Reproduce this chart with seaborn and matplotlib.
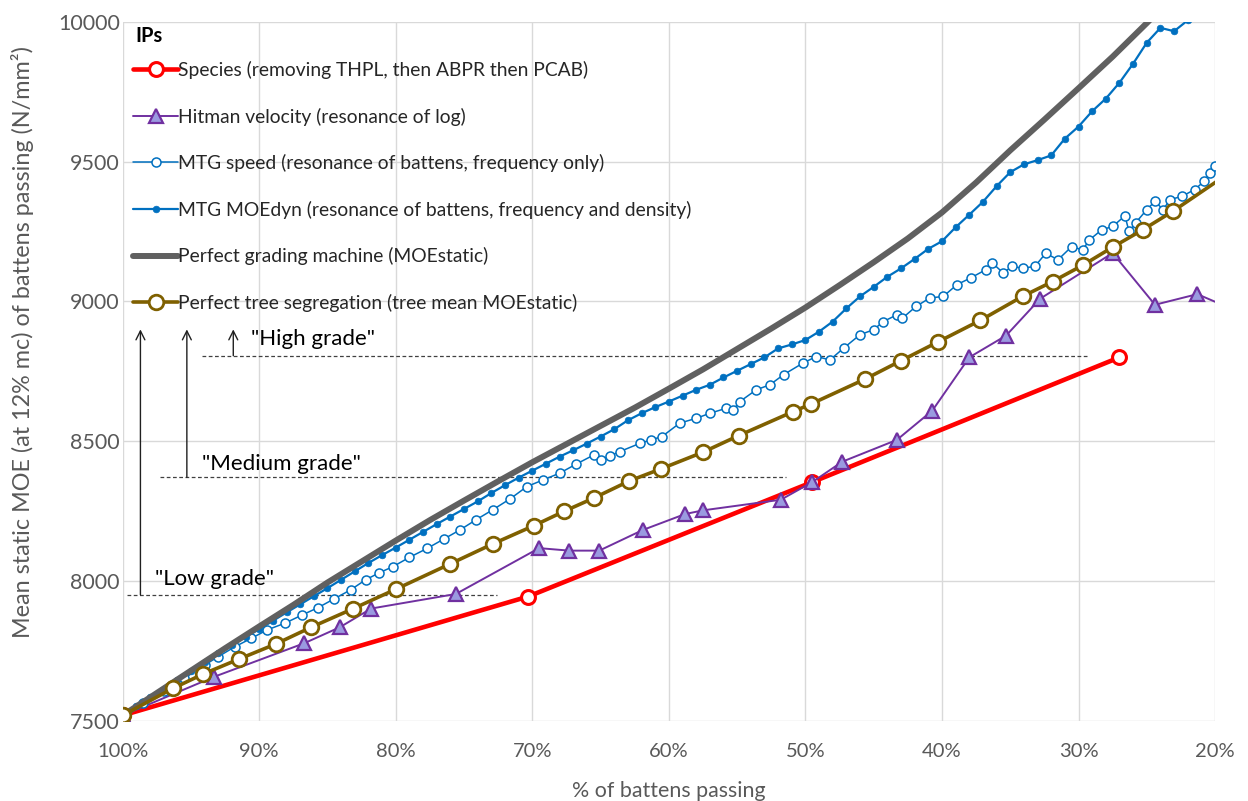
import matplotlib
matplotlib.use('Agg')
import matplotlib.pyplot as plt
import seaborn as sns
import pandas as pd

# values: % of battens passing -> mean static MOE (N/mm2)
species_pct = [100, 70.3, 49.5, 27.0]
species_moe = [7520, 7945, 8354, 8800]

hitman_pct = [100, 93.3, 86.7, 84.1, 81.8, 75.6, 69.5, 67.3, 65.1, 61.9, 58.8, 57.5,
              51.8, 49.5, 47.3, 43.3, 40.7, 38.0, 35.3, 32.8, 27.5, 24.4, 21.3, 19.0]
hitman_moe = [7520, 7658, 7778, 7835, 7902, 7954, 8118, 8109, 8109, 8183, 8240, 8253,
              8291, 8354, 8427, 8505, 8610, 8800, 8878, 9010, 9173, 8988, 9026, 8978]

speed_pct = [100, 98.5, 97, 95.5, 94, 93, 91.8, 90.6, 89.4, 88.1, 86.9, 85.7, 84.5, 83.3,
             82.2, 81.2, 80.2, 79, 77.7, 76.5, 75.3, 74.1, 72.9, 71.6, 70.4, 69.2, 68,
             66.8, 65.5, 65, 64.3, 63.6, 62.1, 61.3, 60.5, 59.2, 58, 57, 55.8, 55.3, 54.8,
             53.6, 52.6, 51.6, 50.2, 49.2, 48.2, 47.2, 46, 45, 44.3, 43.3, 42.9, 41.9,
             40.9, 39.9, 38.9, 37.9, 36.8, 36.3, 35.5, 34.9, 34.1, 33.2, 32.4, 31.5,
             30.5, 29.7, 29.2, 28.3, 27.5, 26.6, 26.3, 25.8, 25, 24.4, 23.8, 23.3, 22.4,
             21.5, 20.8, 20.4, 20]
speed_moe = [7520, 7565, 7608, 7652, 7700, 7730, 7765, 7795, 7826, 7850, 7878, 7905, 7937,
             7969, 8005, 8030, 8052, 8085, 8117, 8150, 8183, 8220, 8255, 8295, 8338, 8362,
             8386, 8418, 8451, 8434, 8448, 8463, 8493, 8505, 8517, 8565, 8582, 8600, 8618,
             8612, 8642, 8684, 8702, 8738, 8779, 8803, 8791, 8833, 8881, 8899, 8928, 8952,
             8940, 8982, 9012, 9018, 9060, 9084, 9113, 9137, 9101, 9125, 9119, 9125, 9172,
             9149, 9196, 9184, 9220, 9256, 9268, 9306, 9250, 9282, 9328, 9358, 9328, 9364,
             9376, 9400, 9429, 9459, 9483]

moedyn_pct = [100, 99, 98, 97, 96, 95, 94, 93, 92, 91, 90, 89, 88, 87, 86, 85, 84, 83, 82,
              81, 80, 79, 78, 77, 76, 75, 74, 73, 72, 71, 70, 69, 68, 67, 66, 65, 64, 63,
              62, 61, 60, 59, 58, 57, 56, 55, 54, 53, 52, 51, 50, 49, 48, 47, 46, 45, 44,
              43, 42, 41, 40, 39, 38, 37, 36, 35, 34, 33, 32, 31, 30, 29, 28, 27, 26, 25,
              24, 23, 22]
moedyn_moe = [7520, 7552, 7584, 7616, 7648, 7680, 7711, 7742, 7772, 7800, 7828, 7858, 7888,
              7917, 7946, 7975, 8005, 8035, 8065, 8093, 8120, 8148, 8176, 8204, 8231, 8258,
              8285, 8315, 8343, 8370, 8395, 8420, 8445, 8468, 8492, 8517, 8543, 8575, 8600,
              8622, 8642, 8663, 8684, 8702, 8728, 8752, 8776, 8800, 8832, 8846, 8862, 8892,
              8928, 8975, 9018, 9052, 9088, 9118, 9152, 9188, 9215, 9265, 9310, 9356, 9412,
              9462, 9490, 9505, 9522, 9582, 9625, 9680, 9725, 9782, 9850, 9925, 9978, 9966,
              10005]

perfect_pct = [100, 97.5, 95, 92.5, 90, 87.5, 85, 82.5, 80, 77.5, 75, 72.5, 70, 67.5, 65,
               62.5, 60, 57.5, 55, 52.5, 50, 47.5, 45, 42.5, 40, 37.5, 35, 32.5, 30, 27.5,
               25, 24]
perfect_moe = [7520, 7600, 7680, 7760, 7838, 7915, 7995, 8070, 8145, 8218, 8288, 8357, 8425,
               8490, 8555, 8620, 8688, 8757, 8830, 8903, 8978, 9058, 9140, 9225, 9318, 9425,
               9540, 9650, 9762, 9875, 9995, 10045]

tree_pct = [100, 96.3, 94.1, 91.5, 88.8, 86.2, 83.1, 80.0, 76.0, 72.9, 69.9, 67.7, 65.5,
            62.9, 60.6, 57.5, 54.9, 50.9, 49.6, 45.6, 43.0, 40.3, 37.2, 34.1, 31.9, 29.7,
            27.5, 25.3, 23.1, 19.0]
tree_moe = [7520, 7617, 7668, 7721, 7775, 7835, 7902, 7971, 8062, 8133, 8198, 8249, 8297,
            8358, 8401, 8461, 8520, 8606, 8633, 8723, 8788, 8855, 8932, 9018, 9071, 9129,
            9194, 9256, 9322, 9458]

# grade thresholds drawn as dashed lines with arrows
grade_names = ['"Low grade"', '"Medium grade"', '"High grade"']
grade_moe = [7951, 8371, 8806]
grade_from_pct = [99.7, 97.3, 94.2]
grade_to_pct = [72.6, 51.4, 29.4]
grade_arrow_pct = [98.7, 95.3, 91.9]
grade_text_pct = [97.6, 94.2, 90.6]
grade_text_moe = [8007, 8419, 8866]
arrow_top_moe = 8900

x_ticks = [100, 90, 80, 70, 60, 50, 40, 30, 20]
x_tick_labels = ['100%', '90%', '80%', '70%', '60%', '50%', '40%', '30%', '20%']
y_ticks = [7500, 8000, 8500, 9000, 9500, 10000]

sns.set_style("whitegrid")
plt.rcParams['font.family'] = ['Lato', 'DejaVu Sans']

fig, ax = plt.subplots(figsize=(12.48, 8.01), dpi=100)
fig.subplots_adjust(left=0.0983, right=0.9736, bottom=0.0999, top=0.9729)


def draw(pct, moe, label, **kw):
    df = pd.DataFrame({'pct': pct, 'moe': moe})
    sns.lineplot(data=df, x='pct', y='moe', ax=ax, label=label,
                 estimator=None, sort=False, **kw)


draw(species_pct, species_moe, 'Species (removing THPL, then ABPR then PCAB)',
     color='#FF0000', linewidth=3.3, marker='o', markersize=10,
     markerfacecolor='white', markeredgecolor='#FF0000', markeredgewidth=2.2, zorder=3)
draw(hitman_pct, hitman_moe, 'Hitman velocity (resonance of log)',
     color='#7030A0', linewidth=1.4, marker='^', markersize=10,
     markerfacecolor='#9A9AE0', markeredgecolor='#7030A0', markeredgewidth=1.6, zorder=4)
draw(speed_pct, speed_moe, 'MTG speed (resonance of battens, frequency only)',
     color='#0070C0', linewidth=1.1, marker='o', markersize=6.5,
     markerfacecolor='white', markeredgecolor='#0070C0', markeredgewidth=1.1, zorder=5)
draw(moedyn_pct, moedyn_moe, 'MTG MOEdyn (resonance of battens, frequency and density)',
     color='#0070C0', linewidth=1.6, marker='o', markersize=4.8,
     markerfacecolor='#0070C0', markeredgecolor='#0070C0', markeredgewidth=0.5, zorder=6)
draw(perfect_pct, perfect_moe, 'Perfect grading machine (MOEstatic)',
     color='#606060', linewidth=4.3, zorder=7)
draw(tree_pct, tree_moe, 'Perfect tree segregation (tree mean MOEstatic)',
     color='#7F6000', linewidth=2.6, marker='o', markersize=10.5,
     markerfacecolor='white', markeredgecolor='#7F6000', markeredgewidth=2.0, zorder=8)

# grade lines, arrows and labels
for name, lvl, x0, x1, xa, xt, yt in zip(grade_names, grade_moe, grade_from_pct,
                                         grade_to_pct, grade_arrow_pct,
                                         grade_text_pct, grade_text_moe):
    ax.plot([x0, x1], [lvl, lvl], color='#404040', linewidth=0.9,
            linestyle=(0, (3, 2)), zorder=2)
    ax.annotate('', xy=(xa, arrow_top_moe), xytext=(xa, lvl),
                arrowprops=dict(arrowstyle='->', color='#202020', lw=1.0,
                                shrinkA=0, shrinkB=0, mutation_scale=16), zorder=2)
    ax.text(xt, yt, name, fontsize=16, color='black', ha='left', va='center')

ax.set_xlim(100, 20)
ax.set_ylim(7500, 10000)
ax.set_xticks(x_ticks)
ax.set_xticklabels(x_tick_labels)
ax.set_yticks(y_ticks)
ax.grid(True, color='#D9D9D9', linewidth=1.0)
for s in ax.spines.values():
    s.set_visible(False)
ax.tick_params(axis='both', length=0, labelcolor='#595959')
ax.tick_params(axis='x', pad=16, labelsize=14.5)
ax.tick_params(axis='y', pad=2, labelsize=15.5)
ax.set_xlabel('% of battens passing', fontsize=15.4, color='#595959', labelpad=15)
ax.set_ylabel('Mean static MOE (at 12% mc) of battens passing (N/mm²)',
              fontsize=16.8, color='#595959')
ax.yaxis.set_label_coords(-0.081, 0.542)

handles, labels = ax.get_legend_handles_labels()
ax.legend(handles, labels, loc='upper left', bbox_to_anchor=(0.0094, 0.944),
          frameon=False, fontsize=13.9, handlelength=2.35, handletextpad=0.0,
          labelspacing=1.48, borderaxespad=0, borderpad=0)
ax.text(0.0113, 0.9796, 'IPs', transform=ax.transAxes, fontsize=14.5,
        fontweight='bold', ha='left', va='center', color='black')

fig.savefig('out.png', dpi=100)
